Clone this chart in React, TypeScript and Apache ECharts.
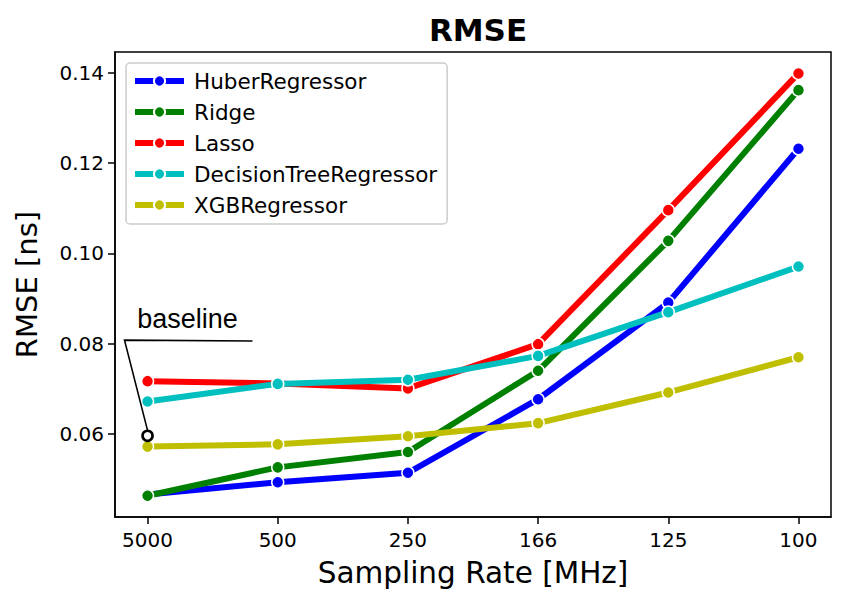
import React, { useEffect, useRef } from "react";
import * as echarts from "echarts";

const categories = ["5000", "500", "250", "166", "125", "100"];
const huber = [0.0466, 0.0493, 0.0514, 0.0677, 0.0891, 0.1232];
const ridge = [0.0463, 0.0526, 0.056, 0.074, 0.1028, 0.1362];
const lasso = [0.0717, 0.0712, 0.0701, 0.0799, 0.1096, 0.1399];
const decisionTree = [0.0672, 0.0711, 0.072, 0.0773, 0.087, 0.0971];
const xgb = [0.0572, 0.0577, 0.0595, 0.0624, 0.0692, 0.077];
const baselineValue = 0.0596;
const yTicks = [0.06, 0.08, 0.1, 0.12, 0.14];

const seriesDefs = [
  { name: "HuberRegressor", data: huber, color: "#0000ff" },
  { name: "Ridge", data: ridge, color: "#008000" },
  { name: "Lasso", data: lasso, color: "#ff0000" },
  { name: "DecisionTreeRegressor", data: decisionTree, color: "#00bfbf" },
  { name: "XGBRegressor", data: xgb, color: "#bfbf00" },
];

// annotation anchor points in data coordinates
const annCorner = [-0.177, 0.0808];
const annEnd = [0.806, 0.0806];
const annTarget = [0, 0.0608];
const annText = [-0.08, 0.0824];

const FONT = "DejaVu Sans";

export default function App() {
  const ref = useRef<HTMLDivElement>(null);
  useEffect(() => {
    document.body.style.margin = "0";
    if (!ref.current) return;
    const chart = echarts.init(ref.current, null, { renderer: "svg" });
    const series: any[] = seriesDefs.map((s, i) => ({
      name: s.name,
      type: "line",
      z: 2 + i,
      data: s.data.map((v, k) => [k, v]),
      symbol: "circle",
      symbolSize: 12,
      lineStyle: { color: s.color, width: 6 },
      itemStyle: { color: s.color, borderColor: "#ffffff", borderWidth: 1.5 },
      emphasis: { disabled: true },
    }));
    series.push({
      name: "baseline",
      type: "scatter",
      z: 10,
      data: [[0, baselineValue]],
      symbol: "circle",
      symbolSize: 10,
      itemStyle: { color: "#ffffff", borderColor: "#000000", borderWidth: 2.6, opacity: 1 },
      emphasis: { disabled: true },
    });
    chart.setOption({
      animation: false,
      backgroundColor: "#ffffff",
      title: {
        text: "RMSE",
        left: 473,
        top: 9,
        textAlign: "center",
        textStyle: { fontFamily: FONT, fontSize: 31, fontWeight: "bold", color: "#000" },
      },
      grid: {
        left: 115,
        top: 52,
        right: 16,
        bottom: 89,
        show: true,
        borderColor: "#000",
        borderWidth: 1.5,
        backgroundColor: "transparent",
      },
      legend: {
        data: seriesDefs.map((s) => s.name),
        orient: "vertical",
        left: 126,
        top: 63,
        padding: [7, 10, 8, 6],
        itemGap: 9,
        itemWidth: 49,
        itemHeight: 14,
        borderColor: "#cccccc",
        borderWidth: 1.5,
        borderRadius: 4,
        backgroundColor: "rgba(255,255,255,0.8)",
        lineStyle: { width: 6 },
        textStyle: { fontFamily: FONT, fontSize: 21.5, color: "#000", padding: [0, 0, 0, 5] },
        selectedMode: false,
      },
      xAxis: {
        type: "value",
        min: -0.25,
        max: 5.25,
        name: "Sampling Rate [MHz]",
        nameLocation: "middle",
        nameGap: 41,
        nameTextStyle: { fontFamily: FONT, fontSize: 29.5, color: "#000" },
        axisLine: { show: true, onZero: false, lineStyle: { color: "#000", width: 1.5 } },
        axisTick: { show: true, length: 7, lineStyle: { color: "#000", width: 1.5 }, customValues: categories.map((_, i) => i) },
        axisLabel: {
          customValues: categories.map((_, i) => i),
          formatter: (v: number) => categories[Math.round(v)] ?? "",
          fontFamily: FONT,
          fontSize: 20,
          color: "#000",
          margin: 13,
        },
        splitLine: { show: false },
      },
      yAxis: {
        type: "value",
        min: 0.0416,
        max: 0.14465,
        name: "RMSE [ns]",
        nameLocation: "middle",
        nameRotate: 90,
        nameGap: 74,
        nameTextStyle: { fontFamily: FONT, fontSize: 29, color: "#000" },
        axisLine: { show: true, onZero: false, lineStyle: { color: "#000", width: 1.5 } },
        axisTick: { show: true, length: 7, lineStyle: { color: "#000", width: 1.5 }, customValues: yTicks },
        axisLabel: {
          customValues: yTicks,
          formatter: (v: number) => v.toFixed(2),
          fontFamily: FONT,
          fontSize: 20,
          color: "#000",
          margin: 11,
        },
        splitLine: { show: false },
      },
      series,
    });
    const p = (pt: number[]) => chart.convertToPixel({ gridIndex: 0 }, pt) as number[];
    const c = p(annCorner);
    const e = p(annEnd);
    const t = p(annTarget);
    const tx = p(annText);
    chart.setOption({
      graphic: [
        {
          type: "polyline",
          z: 20,
          shape: { points: [e, c, t] },
          style: { stroke: "#000", lineWidth: 1.6, fill: "none" },
        },
        {
          type: "text",
          z: 20,
          x: tx[0],
          y: tx[1],
          style: {
            text: "baseline",
            fontFamily: "Liberation Sans",
            fontSize: 27,
            fill: "#000",
            verticalAlign: "bottom",
          },
        },
      ],
    });
    return () => chart.dispose();
  }, []);
  return <div ref={ref} style={{ width: 847, height: 606 }} />;
}
